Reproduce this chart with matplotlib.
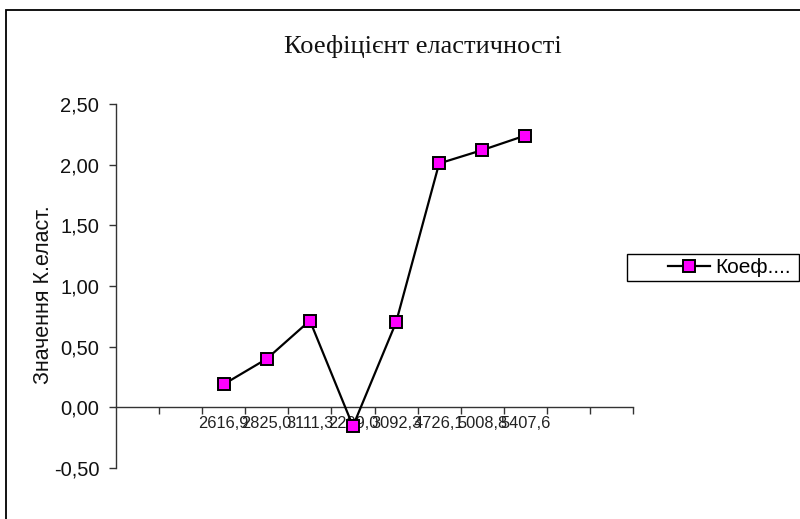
import matplotlib
matplotlib.use("Agg")
import matplotlib.pyplot as plt
from matplotlib.patches import Rectangle
from matplotlib.ticker import FixedLocator, FixedFormatter, FuncFormatter

# Elasticity coefficient by income level
income_labels = ["2616,9", "2825,0", "3111,3", "2209,0", "3092,3", "4726,1", "5008,8", "5407,6"]
elasticity = [0.19, 0.40, 0.715, -0.155, 0.70, 2.01, 2.12, 2.24]
y_ticks = [-0.5, 0.0, 0.5, 1.0, 1.5, 2.0, 2.5]
n_slots = 12          # category slots on the x axis
first_slot = 2        # series starts in the third slot

W, H = 800, 519
fig = plt.figure(figsize=(W / 100, H / 100), dpi=100)
fig.patch.set_facecolor("white")

ax = fig.add_axes([116 / W, 1 - 468 / H, (633 - 116) / W, (468 - 104) / H])
ax.set_facecolor("white")

xs = list(range(first_slot, first_slot + len(elasticity)))
ax.plot(xs, elasticity, color="black", lw=1.6, marker="s", ms=8.5,
        mfc="#FF00FF", mec="black", mew=1.4, label="Коеф....", clip_on=False, zorder=3)

ax.set_xlim(-0.5, n_slots - 0.5)
ax.set_ylim(-0.5, 2.5)

# axes lines
for s in ("top", "right"):
    ax.spines[s].set_visible(False)
ax.spines["bottom"].set_position(("data", 0))
ax.spines["left"].set_color("#333333")
ax.spines["bottom"].set_color("#333333")
ax.spines["left"].set_linewidth(1.0)
ax.spines["bottom"].set_linewidth(1.0)

# y axis
ax.yaxis.set_major_locator(FixedLocator(y_ticks))
ax.yaxis.set_major_formatter(FuncFormatter(lambda v, p: f"{v:.2f}".replace(".", ",")))
ax.tick_params(axis="y", direction="out", length=5, width=1, color="#333333",
               pad=7, labelsize=14.5, labelcolor="#111111")

# x axis: ticks on slot boundaries, labels at category centres
bounds = [i + 0.5 for i in range(n_slots)]
ax.xaxis.set_major_locator(FixedLocator(bounds))
ax.xaxis.set_major_formatter(FixedFormatter([""] * len(bounds)))
ax.xaxis.set_minor_locator(FixedLocator(xs))
ax.xaxis.set_minor_formatter(FixedFormatter(income_labels))
ax.tick_params(axis="x", which="major", direction="out", length=5, width=1, color="#333333")
ax.tick_params(axis="x", which="minor", length=0, pad=6, labelsize=11.8, labelcolor="#222222")

for lab in ax.get_yticklabels() + ax.get_xticklabels(minor=True):
    lab.set_fontfamily("Liberation Sans")

# title and axis title
fig.text(423 / W, 1 - 46 / H, "Коефіцієнт еластичності", ha="center", va="center",
         fontsize=19, family="Liberation Serif", color="#111111")
fig.text(44 / W, 1 - 295 / H, "Значення К.еласт.", ha="center", va="center",
         rotation=90, fontsize=15.5, family="Liberation Sans", color="#111111")

# outer chart border (left and top visible)
fig.add_artist(Rectangle((6 / W, -0.1), 1.2, 1 - 10 / H + 0.1, transform=fig.transFigure,
                         fill=False, ec="black", lw=1.3))

# legend box
fig.add_artist(Rectangle((627 / W, 1 - 281 / H), (799 - 627) / W, (281 - 254) / H,
                         transform=fig.transFigure, fill=False, ec="black", lw=1.0))
leg = fig.legend(loc="center left", bbox_to_anchor=(668 / W, 1 - 267.5 / H),
                 frameon=False, borderpad=0, borderaxespad=0, handlelength=2.0,
                 handletextpad=0.25, prop={"family": "Liberation Sans", "size": 15})

fig.savefig("out.png", dpi=100, facecolor="white")
